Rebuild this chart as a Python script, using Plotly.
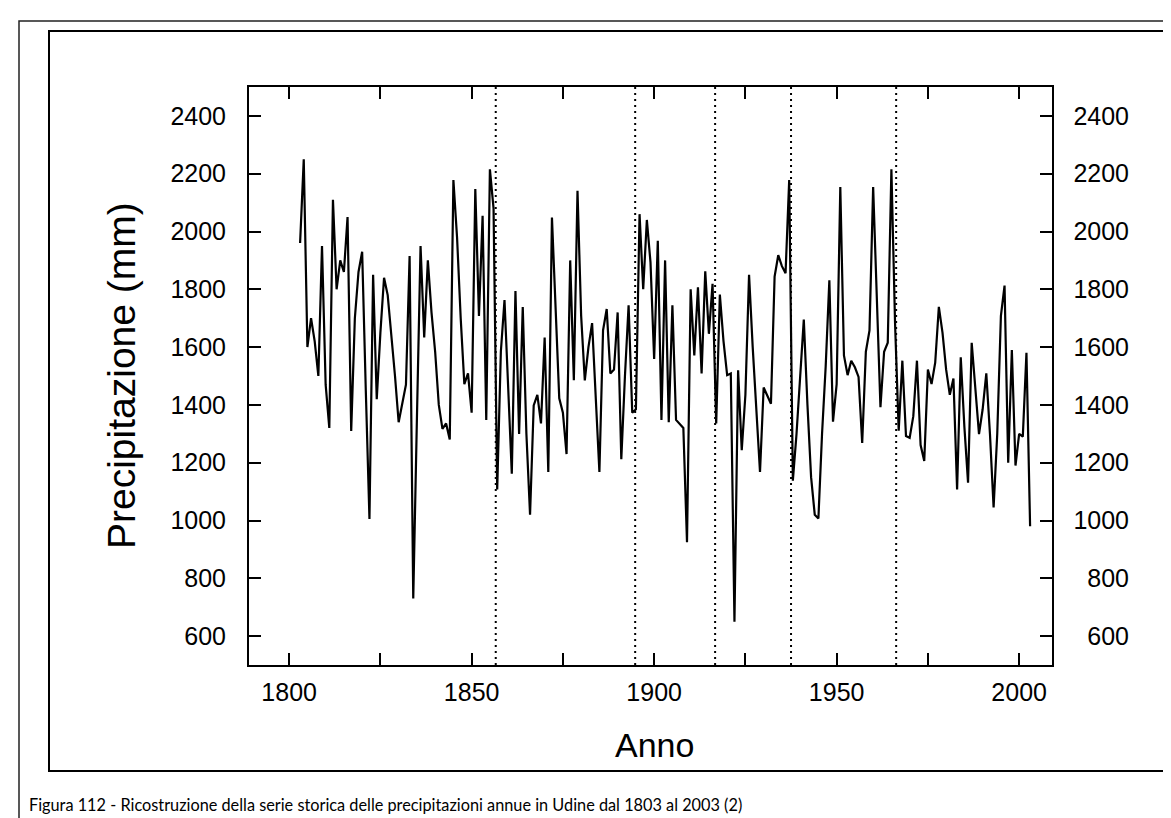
import plotly.graph_objects as go

# ---------------- data ----------------
years = list(range(1803, 2004))
precip = [
    1960, 2250, 1600, 1700, 1620, 1500, 1950,                      # 1803-1809
    1470, 1320, 2110, 1800, 1900, 1860, 2050, 1310, 1700, 1860,    # 1810s
    1930, 1450, 1005, 1850, 1420, 1650, 1840, 1780, 1650, 1500,    # 1820s
    1340, 1400, 1470, 1915, 730, 1350, 1950, 1633, 1900, 1720,     # 1830s
    1584, 1400, 1317, 1336, 1280, 2178, 1980, 1700, 1472, 1509,    # 1840s
    1373, 2147, 1708, 2054, 1348, 2215, 2080, 1107, 1584, 1763,    # 1850s
    1450, 1162, 1794, 1299, 1739, 1300, 1020, 1398, 1435, 1336,    # 1860s
    1633, 1168, 2048, 1700, 1423, 1373, 1230, 1900, 1485, 2141,    # 1870s
    1708, 1485, 1600, 1683, 1400, 1168, 1658, 1732, 1509, 1522,    # 1880s
    1720, 1212, 1500, 1745, 1373, 1385, 2060, 1800, 2040, 1893,    # 1890s
    1559, 1968, 1348, 1900, 1340, 1745, 1348, 1335, 1320, 925,     # 1900s
    1800, 1571, 1807, 1509, 1862, 1646, 1819, 1336, 1782, 1621,    # 1910s
    1503, 1509, 650, 1520, 1243, 1435, 1850, 1600, 1380, 1168,     # 1920s
    1460, 1430, 1404, 1844, 1918, 1880, 1856, 2178, 1138, 1299,    # 1930s
    1500, 1695, 1400, 1150, 1020, 1007, 1300, 1534, 1831, 1342,    # 1940s
    1472, 2154, 1571, 1503, 1553, 1530, 1497, 1268, 1584, 1658,    # 1950s
    2154, 1750, 1392, 1584, 1615, 2215, 1683, 1311, 1553, 1292,    # 1960s
    1286, 1361, 1553, 1261, 1206, 1522, 1472, 1546, 1739, 1650,    # 1970s
    1522, 1435, 1491, 1107, 1565, 1323, 1131, 1615, 1450, 1299,    # 1980s
    1385, 1509, 1300, 1045, 1300, 1708, 1813, 1200, 1590, 1190,    # 1990s
    1300, 1290, 1580, 980,                                         # 2000-2003
]
break_years = [1856.6, 1894.8, 1916.7, 1937.5, 1966.3]
x_ticks = [1800, 1850, 1900, 1950, 2000]
y_ticks = list(range(600, 2401, 200))

assert len(years) == len(precip)

# ---------------- layout geometry (pixels) ----------------
W, H = 1171, 818
PL, PR, PT, PB = 241, 1044, 79, 657


def px(x):
    return (x - PL) / (PR - PL)


def py(y):
    return (PB - y) / (PB - PT)


AX_FONT = "Liberation Sans, Arial, sans-serif"

fig = go.Figure()
fig.add_trace(go.Scatter(x=years, y=precip, mode="lines",
                         line=dict(color="black", width=2.2),
                         showlegend=False, hoverinfo="skip"))
# invisible trace to activate the right-hand axis
fig.add_trace(go.Scatter(x=[years[0]], y=[precip[0]], yaxis="y2", mode="markers",
                         marker=dict(opacity=0), showlegend=False, hoverinfo="skip"))

shapes = []
for by in break_years:
    shapes.append(dict(type="line", xref="x", yref="paper", x0=by, x1=by, y0=0, y1=1,
                       line=dict(color="black", width=2, dash="2px,4px")))
# outer and inner frames
shapes.append(dict(type="rect", xref="paper", yref="paper",
                   x0=px(11), x1=px(1175), y0=py(13), y1=py(830),
                   line=dict(color="#222", width=1.5), layer="below"))
shapes.append(dict(type="rect", xref="paper", yref="paper",
                   x0=px(41), x1=px(1168), y0=py(23), y1=py(763),
                   line=dict(color="black", width=2), layer="below"))

annotations = [
    dict(text="Precipitazione (mm)", xref="paper", yref="paper", x=px(113), y=py(368),
         xanchor="center", yanchor="middle", textangle=-90, showarrow=False,
         font=dict(family=AX_FONT, size=39, color="black")),
    dict(text="Anno", xref="paper", yref="paper", x=px(646), y=py(737),
         xanchor="center", yanchor="middle", showarrow=False,
         font=dict(family=AX_FONT, size=34, color="black")),
    dict(text="Figura 112 - Ricostruzione della serie storica delle precipitazioni annue in Udine dal 1803 al 2003 (2)",
         xref="paper", yref="paper", x=px(19), y=py(796), xanchor="left", yanchor="middle",
         showarrow=False, font=dict(family="Lato, Open Sans, sans-serif", size=16.3, color="black")),
]

fig.update_layout(
    width=W, height=H,
    margin=dict(l=PL, r=W - PR, t=PT, b=H - PB, pad=0),
    paper_bgcolor="white", plot_bgcolor="white",
    showlegend=False,
    xaxis=dict(range=[1789, 2009], tickvals=x_ticks, ticktext=[str(v) for v in x_ticks],
               ticks="inside", ticklen=12, tickwidth=2, tickcolor="black",
               showline=True, linewidth=2, linecolor="black", mirror="allticks",
               showgrid=False, zeroline=False, ticklabelstandoff=4,
               tickfont=dict(family=AX_FONT, size=25, color="black"),
               minor=dict(dtick=25, tick0=1800, ticks="inside", ticklen=7,
                          tickwidth=2, tickcolor="black", showgrid=False)),
    yaxis=dict(range=[500, 2500], tickvals=y_ticks, ticktext=[str(v) for v in y_ticks],
               ticks="inside", ticklen=12, tickwidth=2, tickcolor="black",
               showline=True, linewidth=2, linecolor="black", mirror="allticks",
               showgrid=False, zeroline=False, ticklabelstandoff=16,
               tickfont=dict(family=AX_FONT, size=25, color="black")),
    yaxis2=dict(range=[500, 2500], tickvals=y_ticks, ticktext=[str(v) for v in y_ticks],
                overlaying="y", side="right", showline=False, ticks="",
                ticklabelposition="inside", ticklabelstandoff=-80,
                showgrid=False, zeroline=False,
                tickfont=dict(family=AX_FONT, size=25, color="black")),
    shapes=shapes,
    annotations=annotations,
)

fig.write_html("out.html")
